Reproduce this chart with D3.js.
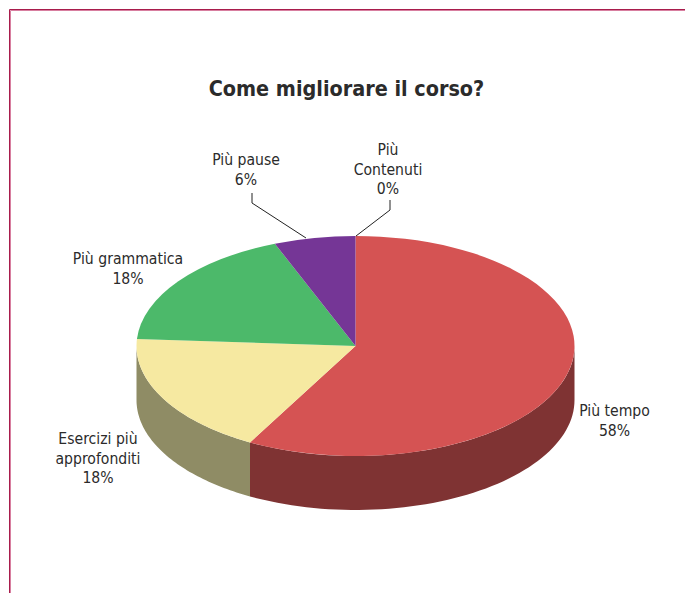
<!DOCTYPE html>
<html lang="it">
<head>
<meta charset="utf-8">
<title>Come migliorare il corso?</title>
<script src="https://cdn.jsdelivr.net/npm/d3@7/dist/d3.min.js"></script>
<style>
  html, body { margin: 0; padding: 0; background: #fff; }
  svg { display: block; }
  text { font-family: "DejaVu Sans", sans-serif; font-stretch: condensed; fill: #2b2b2b; }
</style>
</head>
<body>
<svg id="chart" width="685" height="593"></svg>
<script>
// Survey answers, in drawing order clockwise from twelve o'clock
const categories = ["Più tempo", "Esercizi più approfonditi", "Più grammatica", "Più pause", "Più Contenuti"];
const shares = [58, 18, 18, 6, 0];
const topColors = ["#d55353", "#f6e9a1", "#4cb96a", "#753696", "#4f81bd"];
const wallColors = ["#7f3333", "#8f8c65", "#2e7040", "#47205b", "#304f73"];
const labelLines = [["Più tempo"], ["Esercizi più", "approfonditi"], ["Più grammatica"], ["Più pause"], ["Più", "Contenuti"]];

// Pie geometry
const cx = 355.5, cy = 346, rx = 219, ry = 110, depth = 54;

// Label anchors (centre x, first baseline y) and optional leader lines
const labelPlacement = [
  { x: 614.5, y: 416 },
  { x: 98, y: 444 },
  { x: 128, y: 264 },
  { x: 246, y: 165 },
  { x: 388, y: 155 }
];
const leaderPlacement = [
  null, null, null,
  { from: [252, 193], elbow: [252, 203], to: [306, 238] },
  { from: [390, 200], elbow: [390, 210], to: [356, 236] }
];

const svg = d3.select("#chart");

// Page frame: only the top and left rules fall inside the window
svg.append("path")
  .attr("d", "M685,10.5H10.5V593")
  .attr("fill", "none")
  .attr("stroke", "#d87fa0")
  .attr("stroke-width", 1);
svg.append("path")
  .attr("d", "M685,9.5H9.5V593")
  .attr("fill", "none")
  .attr("stroke", "#a81c4c")
  .attr("stroke-width", 1);

svg.append("text")
  .attr("x", 346.5)
  .attr("y", 96)
  .attr("text-anchor", "middle")
  .attr("font-size", 21.4)
  .attr("font-weight", "bold")
  .text("Come migliorare il corso?");

const slices = d3.pie().sort(null).value(d => d)(shares);

// Point on the rim of the pie for a clockwise angle measured from the top
const rim = (a, drop = 0) => [cx + rx * Math.sin(a), cy - ry * Math.cos(a) + drop];

// Side wall: the part of each slice's rim facing the viewer
const wallPath = (s) => {
  const a0 = Math.max(s.startAngle, Math.PI / 2);
  const a1 = Math.min(s.endAngle, 3 * Math.PI / 2);
  if (a1 <= a0) return null;
  const n = 60;
  const angles = d3.range(n + 1).map(i => a0 + (a1 - a0) * i / n);
  const upper = angles.map(a => rim(a));
  const lower = angles.slice().reverse().map(a => rim(a, depth));
  return d3.line()(upper.concat(lower)) + "Z";
};

svg.append("g").selectAll("path")
  .data(slices.filter(s => wallPath(s)))
  .join("path")
  .attr("d", wallPath)
  .attr("fill", s => wallColors[s.index]);

// Top face: a circular arc squashed into an ellipse
const arc = d3.arc().innerRadius(0).outerRadius(rx);
svg.append("g")
  .attr("transform", `translate(${cx},${cy}) scale(1,${ry / rx})`)
  .selectAll("path")
  .data(slices)
  .join("path")
  .attr("d", arc)
  .attr("fill", s => topColors[s.index]);

// Leader lines
svg.append("g").selectAll("path")
  .data(leaderPlacement.filter(Boolean))
  .join("path")
  .attr("d", d => d3.line()([d.from, d.elbow, d.to]))
  .attr("fill", "none")
  .attr("stroke", "#222")
  .attr("stroke-width", 1);

// Category labels with their percentages
const labels = svg.append("g")
  .attr("font-size", 15.6)
  .attr("text-anchor", "middle")
  .selectAll("text")
  .data(categories)
  .join("text");

labels.each(function (name, i) {
  const t = d3.select(this);
  const place = labelPlacement[i];
  const rows = labelLines[i].concat(shares[i] + "%");
  rows.forEach((row, k) => {
    t.append("tspan")
      .attr("x", place.x)
      .attr("y", place.y + k * 19.5)
      .text(row);
  });
});
</script>
</body>
</html>
